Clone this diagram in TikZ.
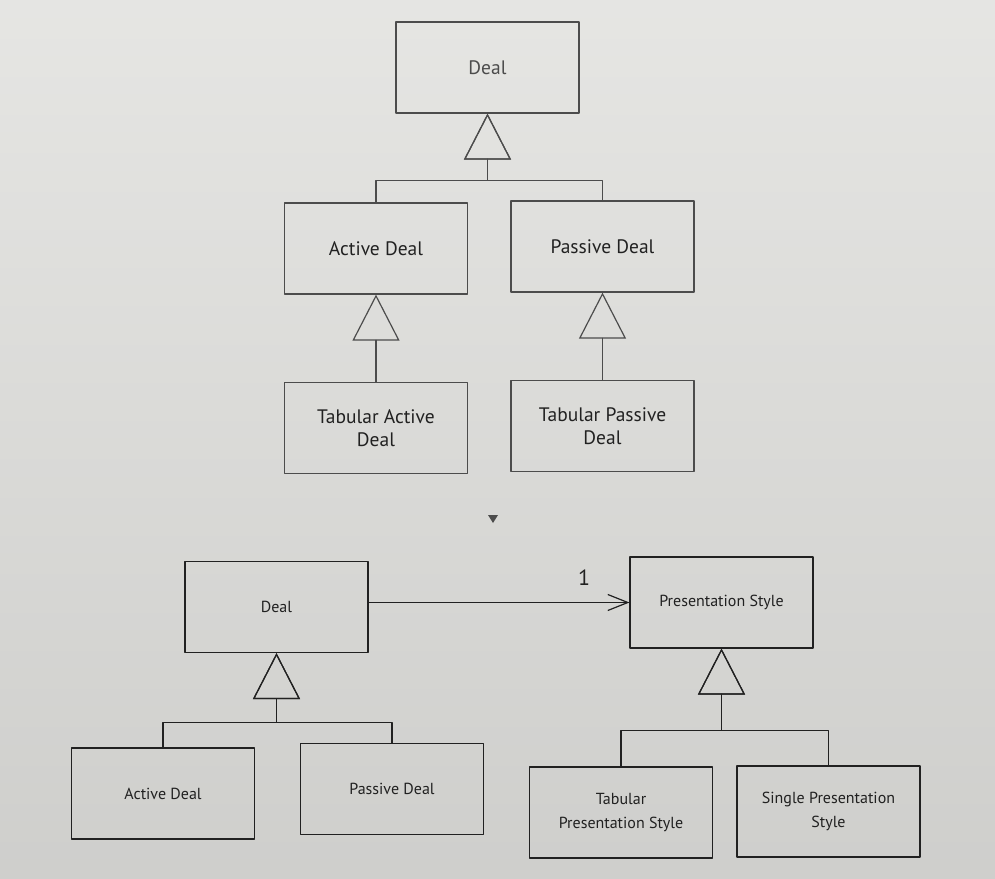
\documentclass[tikz,border=0pt]{standalone}
\usepackage{fontspec}
\setmainfont{PT Sans}
\usepackage{tikz}
\usetikzlibrary{arrows.meta}
\usetikzlibrary{calc}
\definecolor{papertop}{rgb}{0.90,0.90,0.89}
\definecolor{paperbot}{rgb}{0.81,0.81,0.80}
\definecolor{inkgray}{rgb}{0.30,0.30,0.30}
\definecolor{inkdark}{rgb}{0.13,0.13,0.13}

\begin{document}
\begin{tikzpicture}[line cap=round,line join=round,x=1pt,y=-1pt,
  cls/.style={draw,inner sep=0pt,align=center,minimum width=183pt,minimum height=91pt},
  big/.style={font=\fontsize{19.5}{23}\selectfont,text=inkdark},
  small/.style={font=\fontsize{16}{24}\selectfont,text=inkdark},
  inherit/.style={-{Triangle[open,length=46pt,width=47pt]}},
  assoc/.style={-{Straight Barb[length=20pt,width=16pt]}}]
% paper
\useasboundingbox (0,0) rectangle (995,878);
\shade[top color=papertop,bottom color=paperbot] (0,0) rectangle (995,878);
% first version
\begin{scope}[draw=inkgray,line width=1.2pt]
\node[cls,big,text=inkgray] (deal) at (487.5,67.5) {Deal};
\node[cls,big] (active) at (376,248.5) {Active Deal};
\node[cls,big] (passive) at (602.5,246.5) {Passive Deal};
\node[cls,big] (tabactive) at (376,428) {Tabular Active\\Deal};
\node[cls,big] (tabpassive) at (602.5,426) {Tabular Passive\\Deal};
\draw[inherit] (active.north) |- ($(deal.south)+(0,67)$) -| (deal.south);
\draw[inherit] (passive.north) |- ($(deal.south)+(0,67)$) -| (deal.south);
\draw[inherit] (tabactive.north) -- (active.south);
\draw[inherit] (tabpassive.north) -- (passive.south);
\end{scope}
% separator
\fill[inkgray] (488,515) -- (498,515) -- (493,523) -- cycle;
% second version
\begin{scope}[draw=inkdark,line width=1.2pt]
\node[cls,small] (dealB) at (276.5,607) {Deal};
\node[cls,small] (activeB) at (163,793.5) {Active Deal};
\node[cls,small] (passiveB) at (392,789) {Passive Deal};
\node[cls,small] (pstyle) at (721.5,602.5) {Presentation Style};
\node[cls,small] (tabstyle) at (621,812.5) {Tabular\\Presentation Style};
\node[cls,small] (singlestyle) at (828.5,811.5) {Single Presentation\\Style};
\draw[assoc] (dealB.east |- pstyle.west) -- (pstyle.west);
\node[font=\fontsize{22}{24}\selectfont,text=inkdark] (one) at (584,578) {1};
\draw[inherit] (activeB.north) |- ($(dealB.south)+(0,69)$) -| (dealB.south);
\draw[inherit] (passiveB.north) |- ($(dealB.south)+(0,69)$) -| (dealB.south);
\draw[inherit] (tabstyle.north) |- ($(pstyle.south)+(0,82)$) -| (pstyle.south);
\draw[inherit] (singlestyle.north) |- ($(pstyle.south)+(0,82)$) -| (pstyle.south);
\end{scope}
\end{tikzpicture}
\end{document}
